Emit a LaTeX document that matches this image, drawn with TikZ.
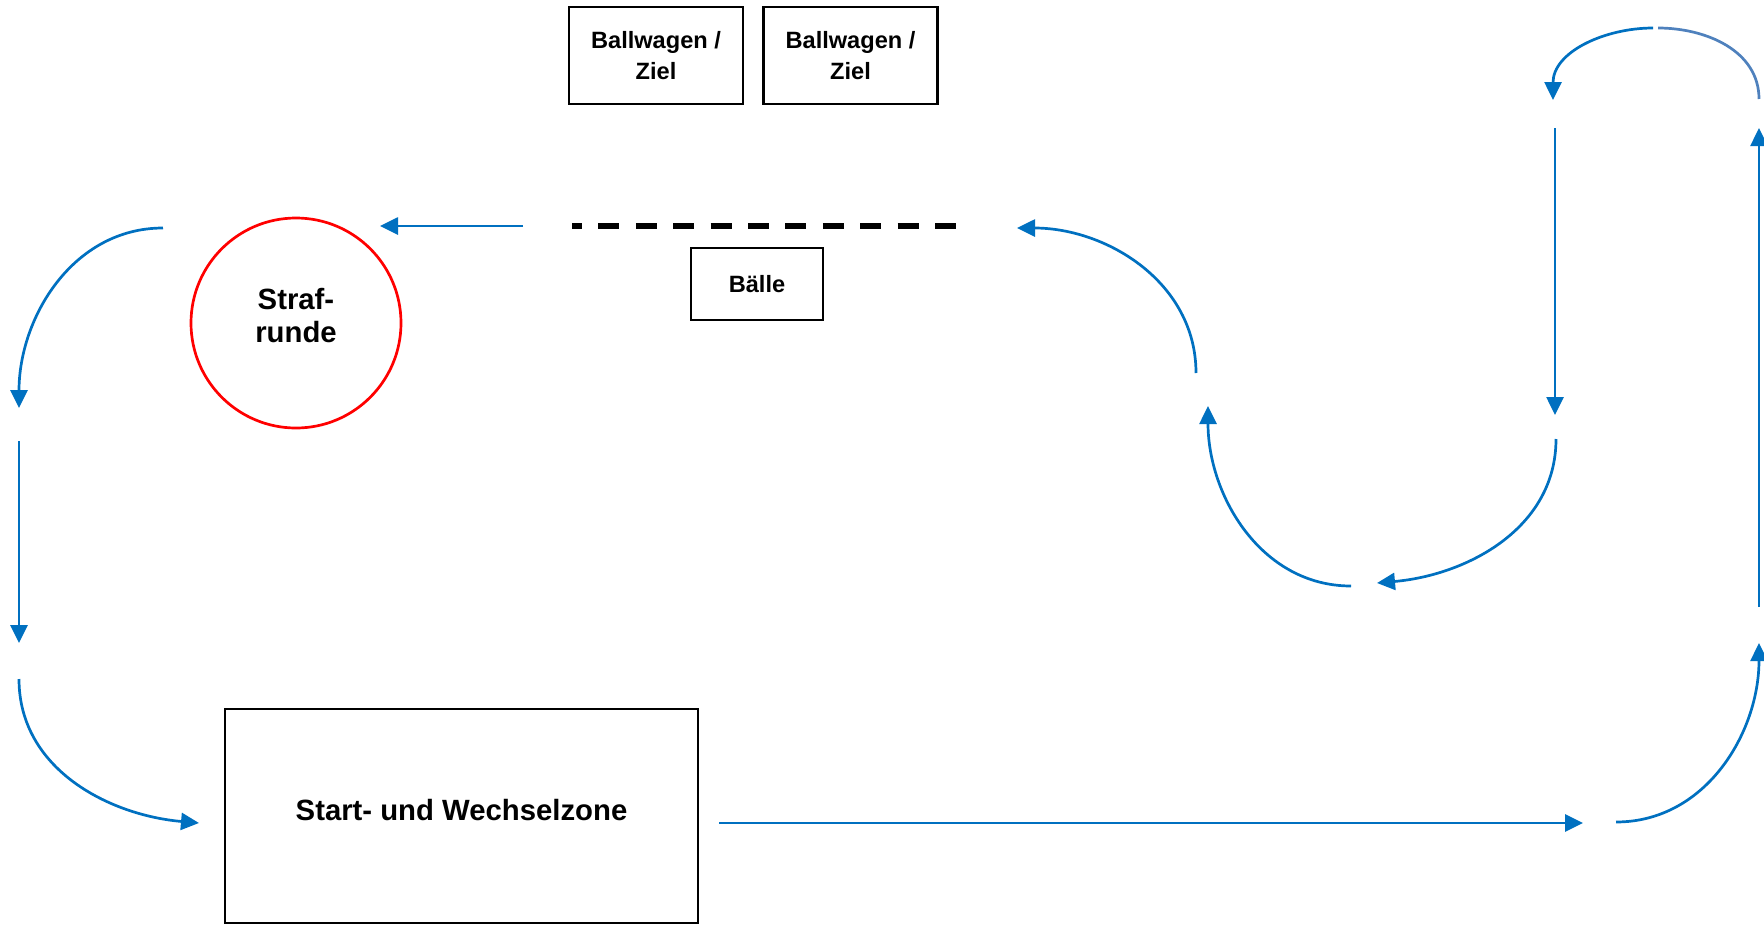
\documentclass[tikz,border=0pt]{standalone}
\usepackage{fontspec}
\setmainfont{Liberation Sans}
\usetikzlibrary{arrows.meta}
\definecolor{flowblue}{HTML}{0070C0}
\definecolor{lightflow}{HTML}{4F81BD}
\begin{document}
\begin{tikzpicture}[x=1pt,y=1pt,
  flow/.style={draw=flowblue, line width=2.7pt, -{Triangle[length=18pt,width=17pt]}},
  flowplain/.style={draw=lightflow, line width=2.7pt},
  infobox/.style={draw=black, line width=2.5pt, rectangle, inner sep=0pt, align=center,
    font={\fontsize{23.6}{30.5}\selectfont\bfseries}},
  bigtxt/.style={inner sep=0pt, align=center, font={\fontsize{29.3}{33}\selectfont\bfseries}},
  zonebox/.style={draw=black, line width=2.5pt, rectangle, inner sep=0pt},
  penalty/.style={circle, draw=red, line width=2.7pt, inner sep=0pt},
  lane/.style={draw=black, line width=5.5pt, dash pattern=on 21pt off 16.4pt, dash phase=11pt}
]
\useasboundingbox (0,0) rectangle (1764,-924);

% boxes
\node[infobox, minimum width=174pt, minimum height=97pt] (wagen1) at (656,-55.5) {Ballwagen /\\Ziel};
\node[infobox, minimum width=174pt, minimum height=97pt] (wagen2) at (850.5,-55.5) {Ballwagen /\\Ziel};
\node[infobox, minimum width=132pt, minimum height=72pt] (baelle) at (757,-284) {Bälle};
\node[penalty, minimum size=210pt] (straf) at (296,-323) {};
\node[bigtxt] (straflabel) at (296,-316) {Straf-\\runde};
\node[zonebox, minimum width=473pt, minimum height=214pt] (zone) at (461.5,-816) {};
\node[bigtxt] (zonelabel) at (461.5,-810.5) {Start- und Wechselzone};

% dashed line
\coordinate (d1) at (572,-226);
\coordinate (d2) at (956,-226);
\draw[lane] (d1) -- (d2);

% connector points
\coordinate (a1s) at (523,-226);   \coordinate (a1e) at (380,-226);
\coordinate (a2s) at (163,-228);   \coordinate (a2e) at (19,-408);
\coordinate (a3s) at (19,-441);    \coordinate (a3e) at (19,-643);
\coordinate (a4s) at (19,-679);    \coordinate (a4e) at (199,-823);
\coordinate (a5s) at (719,-823);   \coordinate (a5e) at (1583,-823);
\coordinate (a6s) at (1616,-822);  \coordinate (a6e) at (1759,-643);
\coordinate (a7s) at (1759,-607);  \coordinate (a7e) at (1759,-128);
\coordinate (a8s) at (1759,-99);   \coordinate (a8e) at (1658,-28);
\coordinate (a9s) at (1653,-28);   \coordinate (a9e) at (1553,-100);
\coordinate (a10s) at (1555,-128); \coordinate (a10e) at (1555,-415);
\coordinate (a11s) at (1556,-439); \coordinate (a11e) at (1377,-583);
\coordinate (a12s) at (1351,-586); \coordinate (a12e) at (1208,-406);
\coordinate (a13s) at (1196,-373); \coordinate (a13e) at (1017,-228);

\draw[flow] (a1s) -- (a1e);
\draw[flow] (a2s) to[out=180,in=90] (a2e);
\draw[flow] (a3s) -- (a3e);
\draw[flow] (a4s) to[out=-90,in=175] (a4e);
\draw[flow] (a5s) -- (a5e);
\draw[flow] (a6s) to[out=0,in=-90] (a6e);
\draw[flow] (a7s) -- (a7e);
\draw[flowplain] (a8s) to[out=90,in=0] (a8e);
\draw[flow] (a9s) to[out=180,in=90] (a9e);
\draw[flow] (a10s) -- (a10e);
\draw[flow] (a11s) to[out=-90,in=5] (a11e);
\draw[flow] (a12s) to[out=180,in=-90] (a12e);
\draw[flow] (a13s) to[out=90,in=0] (a13e);
\end{tikzpicture}
\end{document}
